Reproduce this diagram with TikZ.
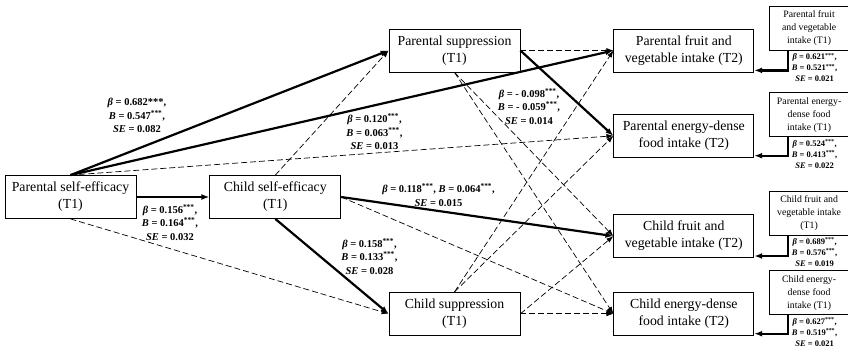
\documentclass[tikz,border=0pt]{standalone}
\usepackage{fontspec}
\setmainfont{Liberation Serif}
\usepackage{tikz}
\usetikzlibrary{arrows.meta,positioning}
\newcommand{\bta}{\textit{β}}
\newcommand{\sig}{\textsuperscript{***}}

\begin{document}
\begin{tikzpicture}[
  x=1pt,y=1pt,
  mainbox/.style={draw,line width=0.8pt,align=center,minimum width=131pt,minimum height=43pt,inner sep=1pt,font=\fontsize{13.8}{17}\selectfont},
  outbox/.style={mainbox,minimum width=140pt},
  pastbox/.style={draw,line width=0.8pt,align=center,minimum width=79pt,minimum height=44pt,inner sep=1pt,font=\fontsize{9.8}{13}\selectfont},
  coef/.style={align=center,inner sep=0pt,font=\fontsize{10.5}{13.5}\selectfont\bfseries},
  smallcoef/.style={align=center,inner sep=0pt,font=\fontsize{8.5}{11}\selectfont\bfseries},
  arrow/.style={-{Latex[length=8pt,width=6pt]},line width=2.2pt},
  darrow/.style={-{Latex[length=7pt,width=5pt]},line width=0.7pt,dash pattern=on 6pt off 3pt}
]
  \useasboundingbox (0,0) rectangle (848,-354);

  % predictors and mediators (T1)
  \node[mainbox] (pse) at (70.5,-197) {Parental self-efficacy\\(T1)};
  \node[mainbox,right=73pt of pse] (cse) {Child self-efficacy\\(T1)};
  \node[mainbox] (ps) at (454.5,-50.5) {Parental suppression\\(T1)};
  \node[mainbox,below=219.5pt of ps] (cs) {Child suppression\\(T1)};

  % outcomes (T2)
  \node[outbox,right=93pt of ps] (pfv2) {Parental fruit and\\vegetable intake (T2)};
  \node[outbox,below=41.5pt of pfv2] (ped2) {Parental energy-dense\\food intake (T2)};
  \node[outbox,below=56.5pt of ped2] (cfv2) {Child fruit and\\vegetable intake (T2)};
  \node[outbox,right=93pt of cs] (ced2) {Child energy-dense\\food intake (T2)};

  % baseline intake (T1)
  \node[pastbox,right=15pt of pfv2,yshift=22pt] (pfv1) {Parental fruit\\and vegetable\\intake (T1)};
  \node[pastbox,right=15pt of ped2,yshift=21pt] (ped1) {Parental energy-\\dense food\\intake (T1)};
  \node[pastbox,right=15pt of cfv2,yshift=23pt] (cfv1) {Child fruit and\\vegetable intake\\(T1)};
  \node[pastbox,right=15pt of ced2,yshift=21pt] (ced1) {Child energy-\\dense food\\intake (T1)};

  % paths
  \draw[arrow] (pse.north) -- (ps.west);
  \draw[arrow] (pse.north) -- (pfv2.west);
  \draw[darrow] (pse.north) -- (ped2.west);
  \draw[arrow] (pse) -- (cse);
  \draw[darrow] (pse.south) -- (cs.west);
  \draw[darrow] (cse.north) -- (ps.west);
  \draw[arrow] (cse.south) -- (cs.west);
  \draw[arrow] (cse.east) -- (cfv2.west);
  \draw[darrow] (cse.east) -- (ced2.west);
  \draw[darrow] (ps.east) -- (pfv2.west);
  \draw[arrow] (ps.east) -- (ped2.west);
  \draw[darrow] (ps.south) -- (cfv2.west);
  \draw[darrow] (ps.south) -- (ced2.west);
  \draw[darrow] (cs.north) -- (pfv2.west);
  \draw[darrow] (cs.north) -- (ped2.west);
  \draw[darrow] (cs.east) -- (cfv2.west);
  \draw[darrow] (cs.east) -- (ced2.west);

  % autoregressive paths
  \draw[arrow] ([xshift=19pt]pfv1.south west) |- ([yshift=2pt]pfv2.south east);
  \draw[arrow] ([xshift=19pt]ped1.south west) |- ([yshift=2pt]ped2.south east);
  \draw[arrow] ([xshift=19pt]cfv1.south west) |- ([yshift=2pt]cfv2.south east);
  \draw[arrow] ([xshift=19pt]ced1.south west) |- ([yshift=2pt]ced2.south east);

  % coefficients
  \node[coef] (c682) at (137,-115.5) {\bta{} = 0.682***,\\\textit{B} = 0.547\sig,\\\textit{SE} = 0.082};
  \node[coef] (c120) at (374.5,-132) {\bta{} = 0.120\sig,\\\textit{B} = 0.063\sig,\\\textit{SE} = 0.013};
  \node[coef] (c098) at (529,-106.5) {\bta{} = - 0.098\sig,\\\textit{B} = - 0.059\sig,\\\textit{SE} = 0.014};
  \node[coef] (c118) at (438.5,-195) {\bta{} = 0.118\sig, \textit{B} = 0.064\sig,\\\textit{SE} = 0.015};
  \node[coef] (c158) at (369.5,-256.5) {\bta{} = 0.158\sig,\\\textit{B} = 0.133\sig,\\\textit{SE} = 0.028};
  \node[coef] (c156) at (170,-222.5) {\bta{} = 0.156\sig,\\\textit{B} = 0.164\sig,\\\textit{SE} = 0.032};

  \node[smallcoef,below=2pt of pfv1,xshift=5.5pt] (cpfv) {\bta{} = 0.621\sig,\\\textit{B} = 0.521\sig,\\\textit{SE} = 0.021};
  \node[smallcoef,below=2pt of ped1,xshift=5.5pt] (cped) {\bta{} = 0.524\sig,\\\textit{B} = 0.413\sig,\\\textit{SE} = 0.022};
  \node[smallcoef,below=2pt of cfv1,xshift=5.5pt] (ccfv) {\bta{} = 0.689\sig,\\\textit{B} = 0.576\sig,\\\textit{SE} = 0.019};
  \node[smallcoef,below=2pt of ced1,xshift=5.5pt] (cced) {\bta{} = 0.627\sig,\\\textit{B} = 0.519\sig,\\\textit{SE} = 0.021};
\end{tikzpicture}
\end{document}
